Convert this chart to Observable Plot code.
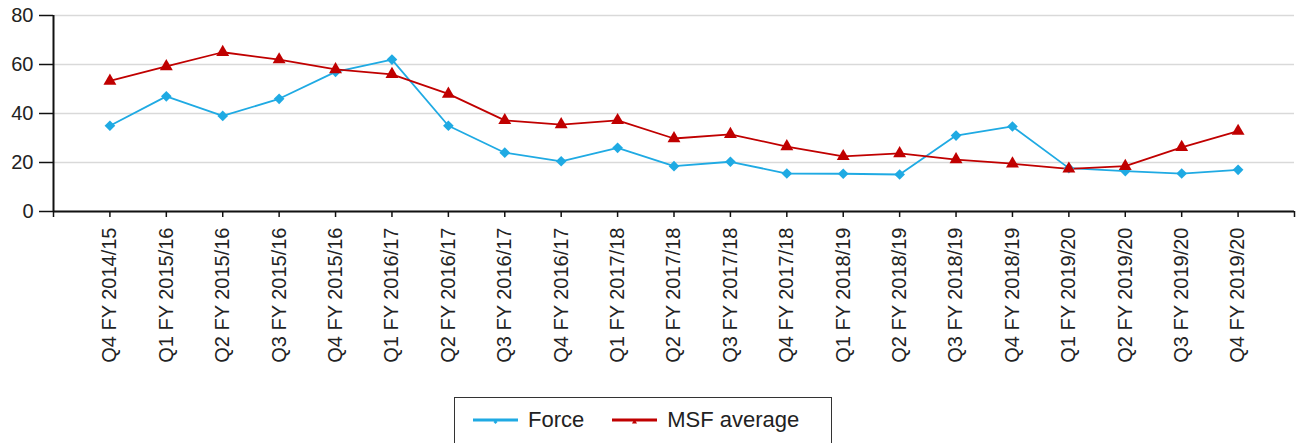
<!DOCTYPE html>
<html>
<head>
<meta charset="utf-8">
<script src="https://cdn.jsdelivr.net/npm/d3@7"></script>
<script src="https://cdn.jsdelivr.net/npm/@observablehq/plot@0.6"></script>
<style>
  body { margin: 0; background: #fff; font-family: "Liberation Sans", Arial, sans-serif; }
  #legend {
    margin-left: 454px; margin-top: 17px; width: 378px; height: 50px;
    border: 1.5px solid #333; box-sizing: border-box;
    display: flex; align-items: flex-start; padding-top: 9px; padding-left: 18px;
    font-size: 22px; color: #222;
  }
  .item { display: flex; align-items: center; margin-right: 28px; }
  .item svg { margin-right: 10px; }
</style>
</head>
<body>
<div id="chart"></div>
<div id="legend"></div>
<script>
const labels = ["Q4 FY 2014/15","Q1 FY 2015/16","Q2 FY 2015/16","Q3 FY 2015/16","Q4 FY 2015/16",
  "Q1 FY 2016/17","Q2 FY 2016/17","Q3 FY 2016/17","Q4 FY 2016/17","Q1 FY 2017/18","Q2 FY 2017/18",
  "Q3 FY 2017/18","Q4 FY 2017/18","Q1 FY 2018/19","Q2 FY 2018/19","Q3 FY 2018/19","Q4 FY 2018/19",
  "Q1 FY 2019/20","Q2 FY 2019/20","Q3 FY 2019/20","Q4 FY 2019/20"];
const force = [35, 47, 39, 46, 57, 62, 35, 24, 20.5, 26, 18.5, 20.3, 15.5, 15.4, 15.1, 31, 34.7, 17.7, 16.5, 15.5, 17];
const msf = [53.3, 59.2, 65, 62, 58, 56, 48, 37.2, 35.5, 37.2, 29.8, 31.5, 26.5, 22.5, 23.7, 21.2, 19.5, 17.4, 18.5, 26.2, 32.8];
const yTicks = [0, 20, 40, 60, 80];
const seriesNames = ["Force", "MSF average"];
const colors = ["#1FAAE3", "#C00000"];
const symbols = ["diamond2", "triangle"];

const rows = [];
labels.forEach((q, i) => {
  rows.push({i, series: seriesNames[0], value: force[i]});
  rows.push({i, series: seriesNames[1], value: msf[i]});
});

const chart = Plot.plot({
  width: 1298, height: 380,
  marginLeft: 53, marginRight: 4, marginTop: 15, marginBottom: 169,
  style: {fontFamily: "Liberation Sans, Arial, sans-serif", fontSize: "20px", color: "#222"},
  x: {domain: [-1, labels.length], label: null},
  y: {domain: [0, 80], label: null},
  color: {domain: seriesNames, range: colors},
  symbol: {domain: seriesNames, range: symbols},
  marks: [
    Plot.gridY(yTicks, {stroke: "#d9d9d9", strokeOpacity: 1, strokeWidth: 1.5}),
    Plot.axisX({ticks: d3.range(-1, labels.length + 1), tickFormat: i => labels[i] ?? "", tickRotate: -90,
      tickSize: 6, tickPadding: 10, stroke: "#111", strokeWidth: 1.5, fontSize: 20}),
    Plot.axisY({ticks: yTicks, tickSize: 14, tickPadding: 6, stroke: "#111", strokeWidth: 1.5, fontSize: 20}),
    Plot.ruleY([0], {stroke: "#111", strokeWidth: 2}),
    Plot.ruleX([-1], {y1: 0, y2: 80, stroke: "#111", strokeWidth: 2}),
    Plot.line(rows, {x: "i", y: "value", z: "series", stroke: "series", strokeWidth: 1.8}),
    Plot.dot(rows, {x: "i", y: "value", fill: "series", symbol: "series", r: 4.8, stroke: "none"})
  ]
});
document.getElementById("chart").appendChild(chart);

const legend = document.getElementById("legend");
seriesNames.forEach((name, k) => {
  const item = document.createElement("div");
  item.className = "item";
  const sym = k === 0 ? d3.symbol(d3.symbolDiamond2, 28)() : d3.symbol(d3.symbolTriangle, 30)();
  item.innerHTML = `<svg width="45" height="20"><line x1="0" x2="45" y1="10" y2="10" stroke="${colors[k]}" stroke-width="3"/>` +
    `<path d="${sym}" transform="translate(22.5,12) scale(0.6)" fill="${colors[k]}"/></svg><span>${name}</span>`;
  legend.appendChild(item);
});
</script>
</body>
</html>
